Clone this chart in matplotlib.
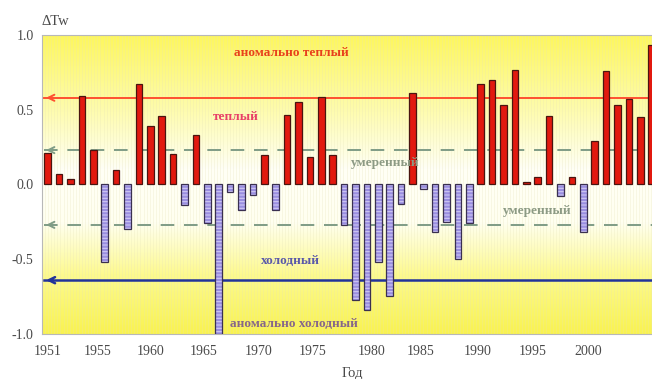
import numpy as np
import matplotlib
matplotlib.use("Agg")
import matplotlib.pyplot as plt
from matplotlib.colors import LinearSegmentedColormap

# --------------------------------------------------------------
# Data: water temperature anomaly by year
# --------------------------------------------------------------
years = list(range(1951, 2005))
anomaly = [0.21, 0.07, 0.04, 0.59, 0.23, -0.52, 0.10, -0.30, 0.67, 0.39,
           0.46, 0.205, -0.14, 0.33, -0.255, -1.0, -0.05, -0.17, -0.07, 0.20,
           -0.17, 0.465, 0.55, 0.185, 0.585, 0.195, -0.27, -0.77, -0.84, -0.52,
           -0.745, -0.13, 0.615, -0.03, -0.32, -0.25, -0.50, -0.255, 0.67, 0.70,
           0.53, 0.765, 0.015, 0.05, 0.46, -0.08, 0.05, -0.32, 0.29, 0.76,
           0.535, 0.57, 0.45, 0.935]

# class boundaries
warm_level = 0.58
moderate_upper = 0.23
moderate_lower = -0.27
cold_level = -0.64

tick_labels = ["1951", "1955", "1960", "1965", "1970", "1975",
               "1980", "1985", "1990", "1995", "2000"]
tick_pos = [1950.96, 1955.34, 1960.0, 1964.64, 1969.46, 1974.2,
            1979.38, 1983.68, 1988.76, 1993.59, 1998.41]
ytick_vals = [1.0, 0.5, 0.0, -0.5, -1.0]

x_min, x_max = 1950.49, 2004.03

plt.rcParams["font.family"] = ["Liberation Serif", "DejaVu Serif"]
plt.rcParams["hatch.linewidth"] = 0.8

fig = plt.figure(figsize=(6.52, 3.79), dpi=100)
ax = fig.add_axes([0.0644, 0.1187, 0.9356, 0.789])

# yellow -> white -> yellow backdrop
bg_cmap = LinearSegmentedColormap.from_list("bg", [
    (0.00, "#f9f350"),
    (0.20, "#fdfa90"),
    (0.37, "#fffff0"),
    (0.55, "#fffff6"),
    (0.74, "#fefcb0"),
    (1.00, "#fdf75c"),
])
grad = np.linspace(0, 1, 256).reshape(-1, 1)
ax.imshow(grad, extent=[x_min, x_max, -1, 1], origin="lower",
          aspect="auto", cmap=bg_cmap, zorder=0)

# faint vertical texture
for xv in np.arange(x_min, x_max, 0.27):
    ax.axvline(xv, color="#e6e2b8", lw=0.4, alpha=0.45, zorder=0.5)

yrs = np.array(years)
vals = np.array(anomaly)
pos = vals >= 0
neg = ~pos

# warm years
ax.bar(yrs[pos], vals[pos], width=0.58, color="#e2190f",
       edgecolor="#4a1510", linewidth=0.9, zorder=3)
# cold years (striped fill)
ax.bar(yrs[neg], vals[neg], width=0.58, color="#9a8ee0",
       edgecolor="#cfc8f4", hatch="-----", linewidth=0, zorder=3)
ax.bar(yrs[neg], vals[neg], width=0.58, fill=False,
       edgecolor="#3a3050", linewidth=0.9, zorder=3.5)

# class boundary lines with arrow heads on the left
lines = [
    (warm_level, "#ff5030", "-", 1.4),
    (moderate_upper, "#7f9c86", (0, (7, 5)), 1.4),
    (moderate_lower, "#7f9c86", (0, (7, 5)), 1.4),
    (cold_level, "#22339a", "-", 1.8),
]
for level, col, ls, lw in lines:
    ax.plot([x_min + 0.15, x_max], [level, level], color=col,
            linestyle=ls, lw=lw, zorder=2.5)
    ax.annotate("", xy=(x_min + 0.12, level), xytext=(x_min + 1.2, level),
                arrowprops=dict(arrowstyle="->", color=col, lw=lw,
                                mutation_scale=11), zorder=2.6)

# class names
label_kw = dict(ha="center", va="center", fontweight="bold", zorder=4)
ax.text(1972.4, 0.88, "аномально теплый", color="#e8401c", fontsize=9.5, **label_kw)
ax.text(1967.5, 0.45, "теплый", color="#e84068", fontsize=9.5, **label_kw)
ax.text(1980.6, 0.145, "умеренный", color="#8c9a84", fontsize=9.5, **label_kw)
ax.text(1994.0, -0.18, "умеренный", color="#8c9a84", fontsize=9.5, **label_kw)
ax.text(1972.3, -0.51, "холодный", color="#5a58aa", fontsize=9.5, **label_kw)
ax.text(1972.6, -0.93, "аномально холодный", color="#86668a", fontsize=9.5, **label_kw)

ax.set_xlim(x_min, x_max)
ax.set_ylim(-1, 1)
ax.set_xticks(tick_pos)
ax.set_xticklabels(tick_labels)
ax.set_yticks(ytick_vals)
ax.set_yticklabels([f"{v:.1f}" for v in ytick_vals])
ax.tick_params(length=0, labelsize=10, colors="#4a4a4a", pad=8)
ax.tick_params(axis="y", pad=6)

for side in ["top", "left", "bottom"]:
    ax.spines[side].set_color("#b8b8b8")
    ax.spines[side].set_linestyle((0, (2, 1)))
    ax.spines[side].set_linewidth(0.8)
ax.spines["right"].set_visible(False)

fig.text(0.064, 0.942, "ΔTw", fontsize=10.5, color="#4a4a4a", ha="left", va="center")
fig.text(0.54, 0.015, "Год", fontsize=10.5, color="#4a4a4a", ha="center", va="center")

fig.savefig("out.png", dpi=100)
